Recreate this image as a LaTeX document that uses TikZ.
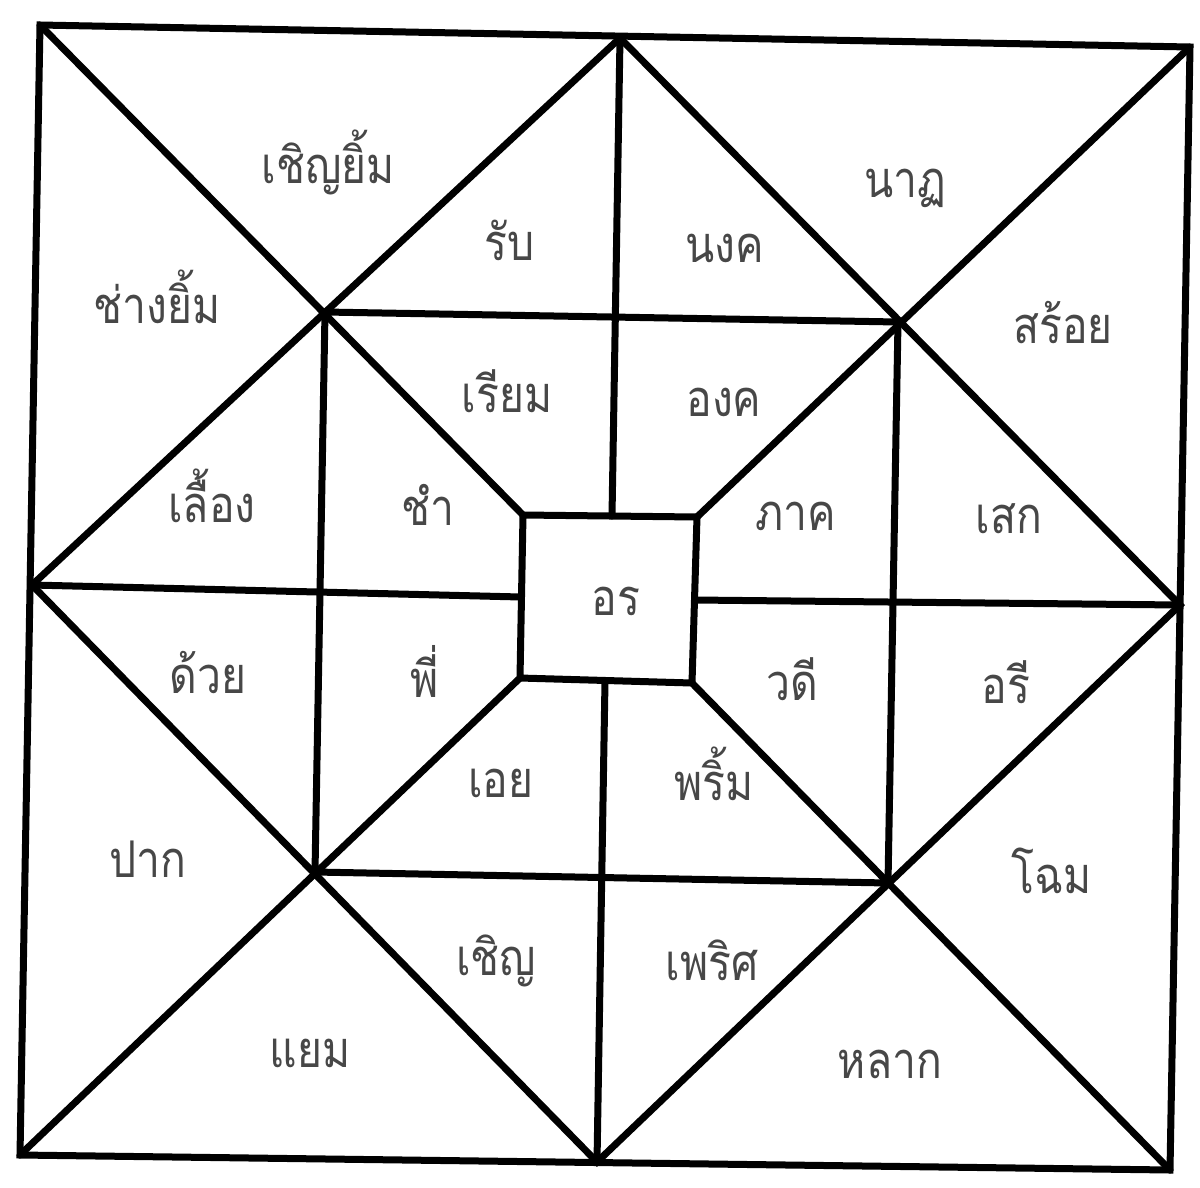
\documentclass[tikz,border=0pt]{standalone}
\usepackage{fontspec}
\usepackage{graphicx}
\newfontfamily\thaifont[Script=Thai]{Loma}
\newcommand{\tall}[1]{\scalebox{0.97}[1.15]{#1}}
\begin{document}
\begin{tikzpicture}[x=1pt,y=-1pt,
  frame/.style={line width=7pt, line join=miter, line cap=round},
  lbl/.style={font=\thaifont\fontsize{44}{50}\selectfont, text=black!72, anchor=base, inner sep=0pt}]
\useasboundingbox[fill=white] (0,0) rectangle (1200,1187);
% outer square
\coordinate (A) at (40,25);
\coordinate (B) at (620,38);
\coordinate (C) at (1190,47);
\coordinate (D) at (1180,605);
\coordinate (E) at (1170,1170);
\coordinate (F) at (597,1162);
\coordinate (G) at (20,1155);
\coordinate (H) at (32,585);
% inner square
\coordinate (P1) at (325,312);
\coordinate (P2) at (898,322);
\coordinate (P3) at (888,883);
\coordinate (P4) at (315,872);
% centre square
\coordinate (Q1) at (523,515);
\coordinate (Q2) at (697,517);
\coordinate (Q3) at (692,683);
\coordinate (Q4) at (520,678);
\coordinate (Qt) at (612,516);
\coordinate (Qr) at (695,600);
\coordinate (Qb) at (605,681);
\coordinate (Ql) at (521,597);

\draw[frame] (A) -- (C) -- (E) -- (G) -- cycle;
\draw[frame] (B) -- (D) -- (F) -- (H) -- cycle;
\draw[frame] (P1) -- (P2) -- (P3) -- (P4) -- cycle;
\draw[frame] (Q1) -- (Q2) -- (Q3) -- (Q4) -- cycle;
\draw[frame] (A) -- (Q1);
\draw[frame] (C) -- (Q2);
\draw[frame] (E) -- (Q3);
\draw[frame] (G) -- (Q4);
\draw[frame] (B) -- (Qt);
\draw[frame] (D) -- (Qr);
\draw[frame] (F) -- (Qb);
\draw[frame] (H) -- (Ql);

\node[lbl] (t1) at (328,183) {\tall{เชิญยิ้ม}};
\node[lbl] (t2) at (157,323) {\tall{ช่างยิ้ม}};
\node[lbl] (t3) at (212,522) {\tall{เลื้อง}};
\node[lbl] (t4) at (510,260) {\tall{รับ}};
\node[lbl] (t5) at (507,412) {\tall{เรียม}};
\node[lbl] (t6) at (428,525) {\tall{ชำ}};
\node[lbl] (t7) at (725,262) {\tall{นงค}};
\node[lbl] (t8) at (724,416) {\tall{องค}};
\node[lbl] (t9) at (905,197) {\tall{นาฏ}};
\node[lbl] (t10) at (1063,343) {\tall{สร้อย}};
\node[lbl] (t11) at (796,530) {\tall{ภาค}};
\node[lbl] (t12) at (1009,533) {\tall{เสก}};
\node[lbl] (t13) at (616,615) {\tall{อร}};
\node[lbl] (t14) at (208,693) {\tall{ด้วย}};
\node[lbl] (t15) at (425,697) {\tall{พี่}};
\node[lbl] (t16) at (792,700) {\tall{วดี}};
\node[lbl] (t17) at (1006,703) {\tall{อรี}};
\node[lbl] (t18) at (501,797) {\tall{เอย}};
\node[lbl] (t19) at (714,800) {\tall{พริ้ม}};
\node[lbl] (t20) at (148,877) {\tall{ปาก}};
\node[lbl] (t21) at (1052,893) {\tall{โฉม}};
\node[lbl] (t22) at (496,975) {\tall{เชิญ}};
\node[lbl] (t23) at (712,980) {\tall{เพริศ}};
\node[lbl] (t24) at (310,1067) {\tall{แยม}};
\node[lbl] (t25) at (890,1078) {\tall{หลาก}};
\end{tikzpicture}
\end{document}
